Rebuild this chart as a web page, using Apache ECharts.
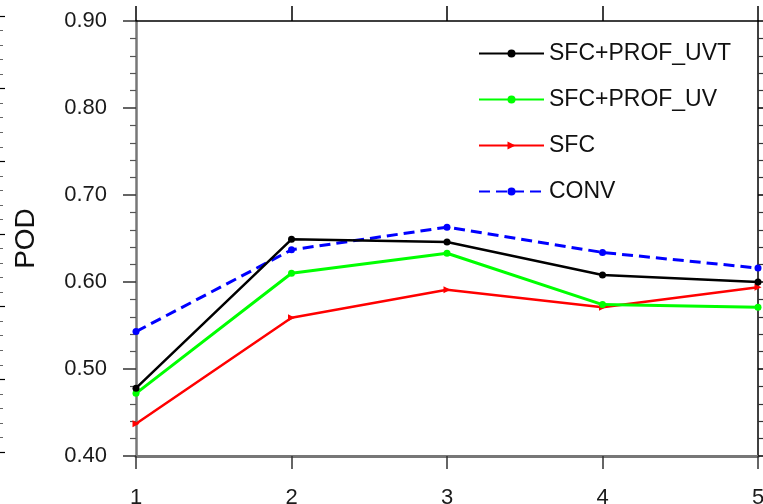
<!DOCTYPE html>
<html>
<head>
<meta charset="utf-8">
<script src="https://cdn.jsdelivr.net/npm/echarts@6/dist/echarts.min.js"></script>
<style>
html,body{margin:0;padding:0;background:#fff;}
#c{width:763px;height:504px;}
</style>
</head>
<body>
<div id="c"></div>
<script>
const xValues = [1, 2, 3, 4, 5];
const seriesNames = ['SFC+PROF_UVT', 'SFC+PROF_UV', 'SFC', 'CONV'];
const uvtValues = [0.478, 0.649, 0.646, 0.608, 0.600];
const uvValues = [0.472, 0.610, 0.633, 0.574, 0.571];
const sfcValues = [0.437, 0.559, 0.591, 0.571, 0.594];
const convValues = [0.543, 0.637, 0.663, 0.634, 0.616];
const yTicks = [0.40, 0.50, 0.60, 0.70, 0.80, 0.90];

const FONT = 'Liberation Sans';
function pairs(vals) { return xValues.map((x, i) => [x, vals[i]]); }

const chart = echarts.init(document.getElementById('c'));
const option = {
  animation: false,
  backgroundColor: '#fff',
  textStyle: { fontFamily: FONT },
  grid: [
    { left: 136, right: 5, top: 21, bottom: 48, containLabel: false, outerBoundsMode: 'none' },
    { left: 0, width: 1, top: 16, bottom: 52, containLabel: false, outerBoundsMode: 'none' }
  ],
  legend: {
    orient: 'vertical',
    left: 478,
    top: 42,
    padding: 0,
    itemWidth: 65,
    itemHeight: 10,
    itemGap: 23,
    data: seriesNames,
    textStyle: { fontFamily: FONT, fontSize: 23, color: '#111', lineHeight: 23 }
  },
  xAxis: [
    {
      type: 'value', gridIndex: 0, position: 'bottom', min: 1, max: 5, interval: 1,
      axisLine: { show: true, onZero: false, lineStyle: { color: '#777', width: 3 } },
      axisTick: { show: true, length: 13, lineStyle: { color: '#333', width: 1.5 } },
      axisLabel: { fontSize: 22, margin: 31, color: '#1a1a1a', fontFamily: FONT },
      splitLine: { show: false }
    },
    {
      type: 'value', gridIndex: 0, position: 'top', min: 1, max: 5, interval: 1,
      axisLine: { show: true, onZero: false, lineStyle: { color: '#000', width: 1.5 } },
      axisTick: { show: true, length: 15, lineStyle: { color: '#000', width: 1.5 } },
      axisLabel: { show: false },
      splitLine: { show: false }
    },
    {
      type: 'value', gridIndex: 1, min: 0, max: 1, show: false
    }
  ],
  yAxis: [
    {
      type: 'value', gridIndex: 0, position: 'left', min: 0.4, max: 0.9, interval: 0.1,
      name: 'POD', nameLocation: 'middle', nameGap: 96, nameRotate: 90,
      nameTextStyle: { fontSize: 28, color: '#111', fontFamily: FONT },
      axisLine: { show: true, onZero: false, lineStyle: { color: '#777', width: 2.5 } },
      axisTick: { show: true, length: 13, lineStyle: { color: '#333', width: 1.5 } },
      minorTick: { show: true, splitNumber: 5, length: 6, lineStyle: { color: '#555', width: 1.2 } },
      axisLabel: { fontSize: 22, margin: 29, color: '#1a1a1a', fontFamily: FONT,
        formatter: v => v.toFixed(2) },
      splitLine: { show: false }
    },
    {
      type: 'value', gridIndex: 0, position: 'right', min: 0.4, max: 0.9, interval: 0.1,
      axisLine: { show: true, onZero: false, lineStyle: { color: '#000', width: 1.5 } },
      axisTick: { show: true, length: 13, lineStyle: { color: '#000', width: 1.5 } },
      minorTick: { show: true, splitNumber: 5, length: 6, lineStyle: { color: '#333', width: 1.2 } },
      axisLabel: { show: false },
      splitLine: { show: false }
    },
    {
      type: 'value', gridIndex: 1, position: 'right', min: 0, max: 6, interval: 1,
      axisLine: { show: false },
      axisTick: { show: true, length: 5, lineStyle: { color: '#000', width: 1.2 } },
      minorTick: { show: true, splitNumber: 5, length: 3, lineStyle: { color: '#666', width: 1 } },
      axisLabel: { show: false },
      splitLine: { show: false }
    }
  ],
  series: [
    {
      name: seriesNames[0], type: 'line', xAxisIndex: 0, yAxisIndex: 0, data: pairs(uvtValues),
      symbol: 'circle', symbolSize: 7, showAllSymbol: true,
      lineStyle: { color: '#000', width: 2.5 }, itemStyle: { color: '#000' }, z: 4
    },
    {
      name: seriesNames[1], type: 'line', xAxisIndex: 0, yAxisIndex: 0, data: pairs(uvValues),
      symbol: 'circle', symbolSize: 7,
      lineStyle: { color: '#00ff00', width: 3 }, itemStyle: { color: '#00ff00' }, z: 3
    },
    {
      name: seriesNames[2], type: 'line', xAxisIndex: 0, yAxisIndex: 0, data: pairs(sfcValues),
      symbol: 'triangle', symbolRotate: -90, symbolSize: 7,
      lineStyle: { color: '#ff0000', width: 2.5 }, itemStyle: { color: '#ff0000' }, z: 2
    },
    {
      name: seriesNames[3], type: 'line', xAxisIndex: 0, yAxisIndex: 0, data: pairs(convValues),
      symbol: 'circle', symbolSize: 7,
      lineStyle: { color: '#0000ff', width: 3, type: [11, 6] }, itemStyle: { color: '#0000ff' }, z: 1
    }
  ]
};
chart.setOption(option);
</script>
</body>
</html>
